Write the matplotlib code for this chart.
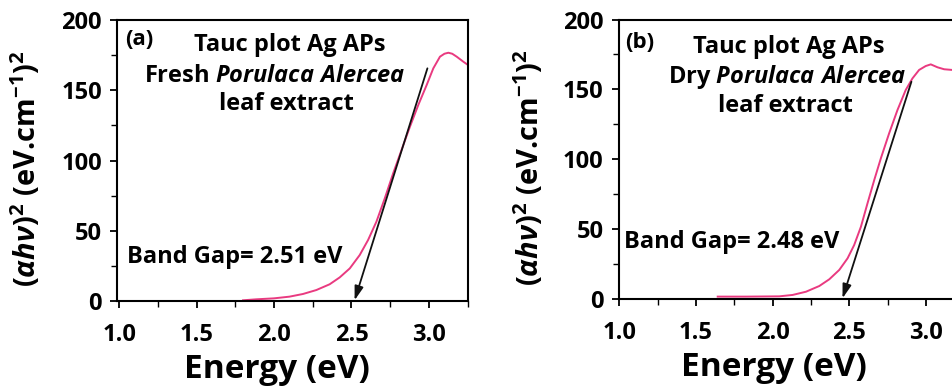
import numpy as np
import matplotlib.pyplot as plt
from matplotlib.ticker import MultipleLocator

plt.rcParams['font.family'] = ['Open Sans', 'DejaVu Sans']
plt.rcParams['font.weight'] = 'bold'
plt.rcParams['mathtext.fontset'] = 'custom'
plt.rcParams['mathtext.it'] = 'Open Sans:italic:bold'
plt.rcParams['mathtext.rm'] = 'Open Sans:bold'
plt.rcParams['mathtext.bf'] = 'Open Sans:bold'

# ---------------------------------------------------------------------------
# Data (energy in eV, (ahv)^2 values)
# ---------------------------------------------------------------------------
fresh_energy = [1.80, 1.885, 2.00, 2.10, 2.187, 2.273, 2.359, 2.424, 2.489,
                2.553, 2.607, 2.661, 2.715, 2.769, 2.823, 2.877, 2.931,
                2.985, 3.028, 3.071, 3.100, 3.125, 3.150, 3.179, 3.222,
                3.261]
fresh_tauc = [0.5, 1.2, 1.9, 3.1, 5.0, 7.8, 11.9, 16.8, 23.2,
              32.7, 43.4, 56.5, 73.1, 90.9, 107.5, 124.0, 139.5,
              153.7, 165.6, 173.9, 176.0, 176.7, 176.0, 173.9, 170.3,
              167.3]

dry_energy = [1.642, 1.826, 2.043, 2.13, 2.217, 2.304, 2.369, 2.434, 2.488,
              2.531, 2.575, 2.618, 2.662, 2.705, 2.759, 2.813, 2.867,
              2.911, 2.954, 2.997, 3.03, 3.074, 3.117, 3.171]
dry_tauc = [1.7, 1.7, 1.9, 2.9, 5.2, 9.3, 14.1, 20.8, 29.1,
            38.6, 51.7, 68.5, 85.2, 100.7, 118.6, 135.2, 149.6,
            157.9, 163.9, 166.7, 167.9, 165.8, 164.4, 163.9]

# tangent (extrapolation) lines: (E_top, Y_top) -> (E_gap, 0)
fresh_fit = [(2.99, 165.6), (2.52, 0.5)]
dry_fit = [(2.904, 155.5), (2.455, 0.5)]

fresh_gap = 2.51
dry_gap = 2.48

x_ticks = [1.0, 1.5, 2.0, 2.5, 3.0]
y_ticks = [0, 50, 100, 150, 200]

CURVE_COLOR = '#e93a80'


def style_axes(ax, xlim, xlab_x):
    ax.set_xlim(*xlim)
    ax.set_ylim(0, 200)
    ax.set_xticks(x_ticks)
    ax.set_xticklabels([f"{t:.1f}" for t in x_ticks])
    ax.set_yticks(y_ticks)
    ax.xaxis.set_minor_locator(MultipleLocator(0.25))
    ax.yaxis.set_minor_locator(MultipleLocator(25))
    ax.tick_params(axis='x', which='major', direction='out', length=5,
                   width=1.3, labelsize=17, pad=11)
    ax.tick_params(axis='y', which='major', direction='out', length=5,
                   width=1.3, labelsize=17, pad=6)
    ax.tick_params(which='minor', direction='out', length=4, width=1.0)
    for lab in ax.get_xticklabels() + ax.get_yticklabels():
        lab.set_fontweight('bold')
    for sp in ax.spines.values():
        sp.set_linewidth(1.5)
    ax.set_xlabel('Energy (eV)', fontsize=24, fontweight='bold')
    ax.xaxis.set_label_coords(xlab_x, -0.185)
    ax.set_ylabel(r'$(\alpha h\nu)^2$ (eV.cm$^{-1}$)$^2$', fontsize=21,
                  fontweight='bold')
    ax.yaxis.set_label_coords(-0.21, 0.47)


def draw_panel(ax, energy, tauc, fit, tag, line2, gap, xlim, pos):
    ax.plot(energy, tauc, color=CURVE_COLOR, lw=1.4)
    ax.annotate('', xy=fit[1], xytext=fit[0],
                arrowprops=dict(arrowstyle='-|>,head_length=0.7,head_width=0.22',
                                color='#111111', lw=1.3,
                                mutation_scale=12, shrinkA=0, shrinkB=0))
    style_axes(ax, xlim, pos['xlab'])
    ax.text(pos['tag'][0], pos['tag'][1], tag, transform=ax.transAxes,
            fontsize=16, fontweight='bold', va='center', ha='left')
    ax.text(pos['l1'][0], pos['l1'][1], 'Tauc plot Ag APs',
            transform=ax.transAxes, fontsize=17, fontweight='bold',
            va='baseline', ha='center')
    ax.text(pos['l2'][0], pos['l2'][1], line2, transform=ax.transAxes,
            fontsize=17, fontweight='bold', va='baseline', ha='center')
    ax.text(pos['l3'][0], pos['l3'][1], 'leaf extract',
            transform=ax.transAxes, fontsize=17, fontweight='bold',
            va='baseline', ha='center')
    ax.text(pos['gap'][0], pos['gap'][1], f'Band Gap= {gap:.2f} eV',
            transform=ax.transAxes, fontsize=17, fontweight='bold',
            va='baseline', ha='left')


pos_a = dict(tag=(0.022, 0.929), l1=(0.493, 0.89), l2=(0.45, 0.781),
             l3=(0.483, 0.68), gap=(0.028, 0.135), xlab=0.456)
pos_b = dict(tag=(0.020, 0.916), l1=(0.4925, 0.88), l2=(0.487, 0.773),
             l3=(0.481, 0.67), gap=(0.016, 0.182), xlab=0.45)

fig = plt.figure(figsize=(9.53, 3.87), dpi=100)
ax_a = fig.add_axes([0.1228, 0.2222, 0.3683, 0.7261])
ax_b = fig.add_axes([0.6492, 0.2274, 0.3629, 0.7222])

draw_panel(ax_a, fresh_energy, fresh_tauc, fresh_fit, '(a)',
           r'Fresh $\mathit{Porulaca\ Alercea}$', fresh_gap,
           (0.987, 3.252), pos_a)
draw_panel(ax_b, dry_energy, dry_tauc, dry_fit, '(b)',
           r'Dry $\mathit{Porulaca\ Alercea}$', dry_gap,
           (0.997, 3.25), pos_b)

fig.savefig('out.png', dpi=100)
